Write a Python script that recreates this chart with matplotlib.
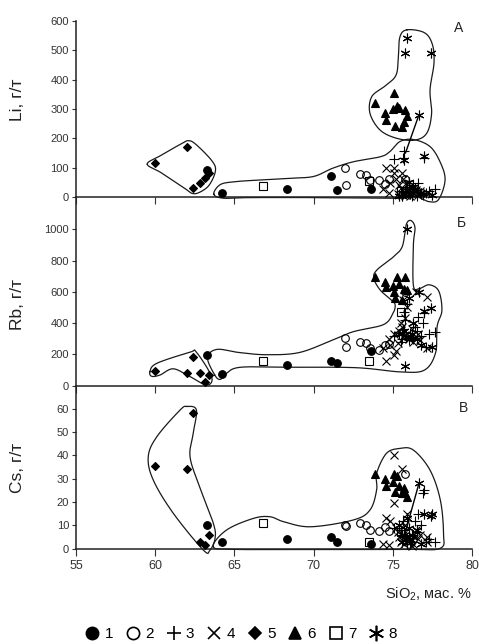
import numpy as np
import matplotlib.pyplot as plt
from matplotlib.lines import Line2D

plt.rcParams['font.family'] = ['Liberation Sans', 'DejaVu Sans']

# SiO2 (мас. %) и содержания Li, Rb, Cs (г/т) по группам 1-8
sio2_1 = [63.3, 64.2, 68.3, 71.1, 71.5, 73.6]
li_1 = [92, 14, 28, 72, 24, 27]
rb_1 = [196, 73, 132, 155, 145, 222]
cs_1 = [10.2, 2.7, 4.2, 5.1, 3.0, 2.0]

sio2_2 = [72.0, 72.05, 72.9, 73.3, 73.55, 74.15, 74.5, 74.75, 75.8]
li_2 = [98, 42, 78, 75, 57, 57, 43, 62, 60]
rb_2 = [303, 248, 278, 275, 240, 230, 260, 267, 600]
cs_2 = [10, 9.9, 11, 10, 8, 7.6, 9.4, 7.6, 32]

sio2_3 = [75.1, 75.65, 75.7, 77.0, 76.6, 77.3, 77.65, 76.8, 76.4, 76.0,
          76.2, 75.5, 76.9, 75.9, 76.3, 75.8, 76.5, 77.1, 76.1, 75.6]
li_3 = [129, 132, 158, 134, 49, 20, 26, 10, 30, 15, 5, 22, 8, 35, 40, 12, 3, 14,
        28, 6]
rb_3 = [320, 360, 470, 463, 441, 330, 345, 318, 377, 290, 310, 280, 400, 520,
        300, 420, 350, 250, 340, 300]
cs_3 = [9, 12, 8, 25, 15, 4, 3, 10, 12, 4, 3, 8, 24, 2, 6, 5, 7, 3, 2, 6]

sio2_4 = [74.6, 75.1, 75.55, 75.1, 77.15, 74.8, 74.4, 74.75, 75.3, 75.5,
          75.8, 76.0, 76.3, 76.6, 77.14, 75.9, 76.2, 75.2, 75.65, 76.45,
          75.4, 76.1, 76.7, 75.7]
li_4 = [100, 100, 83, 83, 12, 47, 26, 15, 10, 30, 8, 22, 12, 6, 15, 45, 18, 60,
        60, 25, 40, 4, 20, 18]
rb_4 = [158, 196, 377, 330, 569, 260, 240, 300, 270, 400, 430, 300, 280, 330,
        239, 500, 360, 220, 550, 600, 350, 310, 290, 320]
cs_4 = [13, 40, 34, 19.5, 5, 12, 2, 1.5, 7, 3, 10, 5, 2, 4, 3, 15, 1, 9, 6, 8,
        5, 3, 6, 2]

sio2_5 = [60.0, 62.0, 62.4, 62.8, 63.15, 63.4]
li_5 = [115, 171, 30, 47, 66, 82]
rb_5 = [96, 79, 186, 83, 26, 68]
cs_5 = [35.4, 34, 58, 3, 1.6, 5.9]

sio2_6 = [73.9, 74.5, 74.6, 75.0, 75.1, 75.15, 75.25, 75.4, 75.6, 75.7, 75.8, 75.9]
li_6 = [320, 285, 262, 300, 355, 242, 310, 305, 240, 255, 295, 275]
rb_6 = [693, 665, 633, 640, 600, 559, 697, 650, 548, 620, 697, 612]
cs_6 = [32, 30, 27, 28.7, 32, 24.4, 31, 27, 23.7, 25.9, 24, 22]

sio2_7 = [66.8, 73.5, 75.5]
li_7 = [36, 55, 20]
rb_7 = [155, 160, 469]
cs_7 = [11, 3, 7]

sio2_8 = [75.9, 75.8, 77.4, 76.65, 77.0, 75.7, 76.1, 76.5, 75.6, 76.8, 75.4,
          77.5, 76.3, 76.0, 76.2, 75.85]
li_8 = [541, 490, 490, 280, 141, 126, 10, 20, 5, 15, 2, 8, 35, 50, 12, 25]
rb_8 = [1000, 128, 495, 600, 480, 350, 320, 300, 340, 260, 330, 250, 400, 560,
        330, 310]
cs_8 = [13, 5, 14, 28, 15, 6, 4, 8, 3, 2, 10, 15, 5, 9, 6, 4]

groups = ['1', '2', '3', '4', '5', '6', '7', '8']
sio2 = [sio2_1, sio2_2, sio2_3, sio2_4, sio2_5, sio2_6, sio2_7, sio2_8]
li = [li_1, li_2, li_3, li_4, li_5, li_6, li_7, li_8]
rb = [rb_1, rb_2, rb_3, rb_4, rb_5, rb_6, rb_7, rb_8]
cs = [cs_1, cs_2, cs_3, cs_4, cs_5, cs_6, cs_7, cs_8]

# контуры полей (SiO2, элемент)
li_fields = [
    [(59.5, 112), (60.3, 140), (61.6, 180), (62.1, 192), (62.6, 178), (63.6, 122),
     (63.8, 88), (63.4, 40), (62.8, 16), (62.35, 12), (61.9, 28), (60.4, 82)],
    [(63.7, 10), (64.1, 42), (65.0, 52), (66.6, 58), (68.5, 64), (70.0, 70),
     (71.2, 98), (72.5, 120), (74.2, 137), (74.8, 154), (75.45, 189), (76.3, 196),
     (77.35, 172), (78.0, 118), (78.3, 58), (77.9, -8), (77.3, -16), (76.5, 0),
     (75.4, -4), (74.5, -4), (70.0, -2), (66.0, -2), (64.3, -4)],
    [(75.9, 570), (77.0, 560), (77.5, 520), (77.6, 456), (77.35, 365),
     (77.45, 285), (77.15, 218), (76.4, 194), (75.25, 200), (74.2, 228),
     (73.56, 285), (73.67, 342), (74.5, 378), (75.2, 415), (75.35, 478),
     (75.45, 546)],
]
rb_fields = [
    [(59.67, 90), (60.1, 143), (62.2, 214), (62.6, 214), (63.56, 58), (63.25, 4),
     (62.2, 58), (61.14, 108), (60.3, 68), (59.78, 60)],
    [(63.75, 70), (63.3, 180), (63.9, 232), (65.3, 212), (67.0, 198), (69.1, 212),
     (71.2, 292), (72.5, 345), (74.4, 390), (75.0, 460), (75.15, 516), (74.9, 548),
     (74.2, 612), (73.8, 687), (74.0, 740), (75.0, 820), (75.6, 890), (75.85, 1030),
     (76.15, 1055), (76.4, 1010), (76.3, 900), (76.3, 640), (76.7, 622),
     (77.3, 645), (77.9, 605), (78.1, 480), (77.8, 380), (77.7, 210), (77.0, 100),
     (75.5, 88), (72.7, 115), (68.5, 118), (65.4, 118), (64.5, 79), (64.1, 40)],
]
cs_fields = [
    [(62.0, 61), (62.6, 59.5), (62.4, 49.5), (62.2, 39.4), (62.8, 26.6),
     (63.67, 10.9), (63.78, 4.5), (63.46, -0.6), (63.04, -0.6), (61.14, 15.2),
     (59.88, 29.4), (59.56, 39.4), (60.1, 48), (61.56, 59.4)],
    [(63.67, 0.9), (64.5, 8), (66.2, 13), (67.25, 13.7), (68.1, 11.6), (69.8, 9.4),
     (72.5, 12.3), (73.56, 16.6), (73.98, 25.2), (73.98, 32.3), (74.6, 40.9),
     (75.45, 43), (76.3, 42.3), (77.35, 33.7), (78.0, 20.9), (78.2, 6.6),
     (78.0, 0.2), (76.0, -0.3), (70.0, -0.3), (65.0, -0.3)],
]
li_trend = ([75.8, 76.65], [150, 280])
cs_trend = ([75.75, 76.65], [6, 28])

styles = [
    dict(marker='o', mfc='k', ms=5.5),
    dict(marker='o', mfc='none', ms=5.5),
    dict(marker='+', ms=6.5),
    dict(marker='x', ms=5.5),
    dict(marker='D', mfc='k', ms=4),
    dict(marker='^', mfc='k', ms=5.5),
    dict(marker='s', mfc='none', ms=5.5),
    dict(marker=(6, 2, 0), ms=7),
]


def closed_curve(pts, n=24):
    # замкнутый сплайн Катмулла-Рома через опорные точки
    p = np.asarray(pts, float)
    k = len(p)
    t = np.linspace(0, 1, n, endpoint=False)[:, None]
    segs = []
    for i in range(k):
        p0, p1, p2, p3 = p[i - 1], p[i], p[(i + 1) % k], p[(i + 2) % k]
        segs.append(0.5 * (2 * p1 + (p2 - p0) * t
                           + (2 * p0 - 5 * p1 + 4 * p2 - p3) * t ** 2
                           + (3 * p1 - p0 - 3 * p2 + p3) * t ** 3))
    c = np.vstack(segs)
    return np.vstack([c, c[:1]])


W, H = 479, 644
fig = plt.figure(figsize=(W / 100, H / 100), dpi=100)


def add_panel(top, bottom):
    ax = fig.add_axes([76 / W, 1 - bottom / H, 396 / W, (bottom - top) / H])
    ax.patch.set_visible(False)
    for s in ('top', 'right'):
        ax.spines[s].set_visible(False)
    for s in ('left', 'bottom'):
        ax.spines[s].set_linewidth(1.1)
        ax.spines[s].set_color('#222222')
    ax.set_xlim(55, 80)
    ax.set_xticks(range(55, 81, 5))
    ax.tick_params(axis='y', direction='out', length=3, width=0.8,
                   labelsize=8, pad=2, colors='#333333')
    ax.tick_params(axis='x', direction='out', length=5, width=0.8,
                   labelsize=9, pad=3, colors='#333333')
    return ax


axA = add_panel(21, 197)
axB = add_panel(197, 385.7)
axC = add_panel(385.7, 548.7)

axA.set_ylim(0, 600)
axA.set_yticks(range(0, 601, 100))
axB.set_ylim(0, 1206)
axB.set_yticks(range(0, 1001, 200))
axC.set_ylim(0, 69.9)
axC.set_yticks(range(0, 61, 10))
axA.tick_params(axis='x', labelbottom=False)
axB.tick_params(axis='x', labelbottom=False)

for ax, vals, fields in ((axA, li, li_fields), (axB, rb, rb_fields),
                         (axC, cs, cs_fields)):
    for f in fields:
        c = closed_curve(f)
        ax.plot(c[:, 0], c[:, 1], color='#1a1a1a', lw=0.9, clip_on=False, zorder=2)
    for x, y, st in zip(sio2, vals, styles):
        ax.plot(x, y, ls='none', color='k', mec='k', mew=0.8, clip_on=False,
                zorder=3, **st)

axA.plot(*li_trend, color='k', lw=1.0, zorder=4)
axC.plot(*cs_trend, color='k', lw=1.0, zorder=4)

for label, ypx in (('Li, г/т', 100), ('Rb, г/т', 304), ('Cs, г/т', 468)):
    fig.text(18 / W, 1 - ypx / H, label, rotation=90, fontsize=12.5,
             ha='center', va='center', color='#222222')

for letter, xpx, ypx in (('А', 459, 28), ('Б', 461, 223), ('В', 463, 408)):
    fig.text(xpx / W, 1 - ypx / H, letter, fontsize=10, ha='center', va='center',
             color='#222222')

fig.text(472 / W, 1 - 594 / H, r'SiO$_{\mathregular{2}}$, мас. %', fontsize=10.5,
         ha='right', va='center', color='#222222')

handles = []
for st in styles:
    s = dict(st)
    s['ms'] = s['ms'] * 1.6
    handles.append(Line2D([], [], ls='none', color='k', mec='k', mew=1.2, **s))
fig.legend(handles, groups, loc='center', bbox_to_anchor=(241 / W, 1 - 634 / H),
           ncol=8, frameon=False, fontsize=11, handlelength=1.0,
           handletextpad=0.3, columnspacing=0.8, borderpad=0)

fig.savefig('out.png', dpi=100)
